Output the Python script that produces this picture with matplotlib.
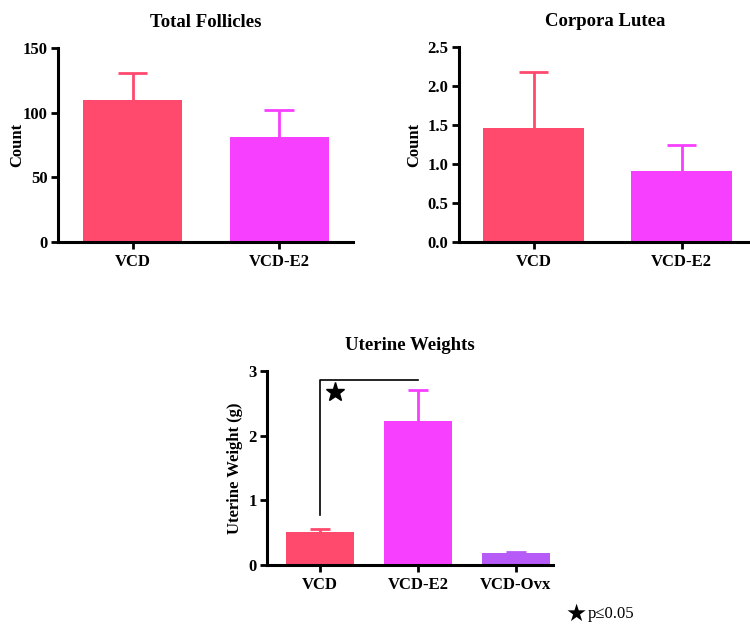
import matplotlib
matplotlib.use("Agg")
import matplotlib.pyplot as plt

plt.rcParams['font.family'] = ['Liberation Serif', 'DejaVu Serif']

# Data
groups2 = ["VCD", "VCD-E2"]
follicles = [110, 81]
follicles_err = [21, 21]
corpora = [1.46, 0.91]
corpora_err = [0.72, 0.33]
groups3 = ["VCD", "VCD-E2", "VCD-Ovx"]
uterine = [0.51, 2.23, 0.19]
uterine_err = [0.04, 0.48, 0.01]

colors = ["#FF4A6E", "#F73FFF", "#B65AF8"]

W, H = 750, 633
fig = plt.figure(figsize=(7.5, 6.33), dpi=100)

def ax_at(l, r, t, b):
    return fig.add_axes([l / W, 1 - b / H, (r - l) / W, (b - t) / H])

def style(ax, xlim, ylim, yticks, yfmt, xlabels, title, ylabel, labelpad=4):
    x = list(range(len(xlabels)))
    ax.set_xlim(*xlim)
    ax.set_ylim(*ylim)
    for s in ["top", "right"]:
        ax.spines[s].set_visible(False)
    for s in ["left", "bottom"]:
        ax.spines[s].set_linewidth(2.2)
    ax.set_yticks(yticks)
    ax.set_yticklabels([yfmt.format(v) for v in yticks], fontsize=12, fontweight="bold")
    ax.set_xticks(x)
    ax.set_xticklabels(xlabels, fontsize=12, fontweight="bold")
    ax.tick_params(axis="both", direction="out", length=5, width=2.0)
    ax.tick_params(axis="y", pad=2.5)
    ax.set_title(title, fontsize=13.5, fontweight="bold", pad=15)
    ax.set_ylabel(ylabel, fontsize=12, fontweight="bold", labelpad=labelpad)

def bars(ax, vals, errs, width, cap):
    x = list(range(len(vals)))
    for i, (v, e) in enumerate(zip(vals, errs)):
        ax.bar(x[i], v, width=width, color=colors[i], zorder=2)
        ax.vlines(x[i], v, v + e, color=colors[i], lw=2, zorder=1)
        ax.hlines(v + e, x[i] - cap, x[i] + cap, color=colors[i], lw=2, zorder=1)

# Panel 1
ax1 = ax_at(58, 353, 48, 242)
bars(ax1, follicles, follicles_err, 0.676, 0.1)
style(ax1, (-0.509, 1.505), (0, 150), [0, 50, 100, 150], "{:d}", groups2,
      "Total Follicles", "Count", labelpad=-2)

# Panel 2
ax2 = ax_at(459, 752, 47, 242)
bars(ax2, corpora, corpora_err, 0.68, 0.1)
style(ax2, (-0.503, 1.475), (0, 2.5), [0.0, 0.5, 1.0, 1.5, 2.0, 2.5], "{:.1f}", groups2,
      "Corpora Lutea", "Count")

# Panel 3
ax3 = ax_at(267, 553, 371, 565)
bars(ax3, uterine, uterine_err, 0.70, 0.1)
style(ax3, (-0.544, 2.38), (0, 3), [0, 1, 2, 3], "{:d}", groups3,
      "Uterine Weights", "Uterine Weight (g)")
# significance bracket
ax3.plot([0, 0, 1], [0.77, 2.86, 2.86], color="black", lw=1.2, zorder=4)
ax3.plot([0.15], [2.68], marker="*", color="black", markersize=14, zorder=4)

# footnote
fig.text(576 / W, 1 - 614 / H, "\u2605", fontsize=17, ha="center", va="center",
         family=["DejaVu Sans"])
fig.text(588 / W, 1 - 614 / H, "p\u22640.05", fontsize=12, ha="left", va="center")

fig.savefig("out.png", dpi=100)
